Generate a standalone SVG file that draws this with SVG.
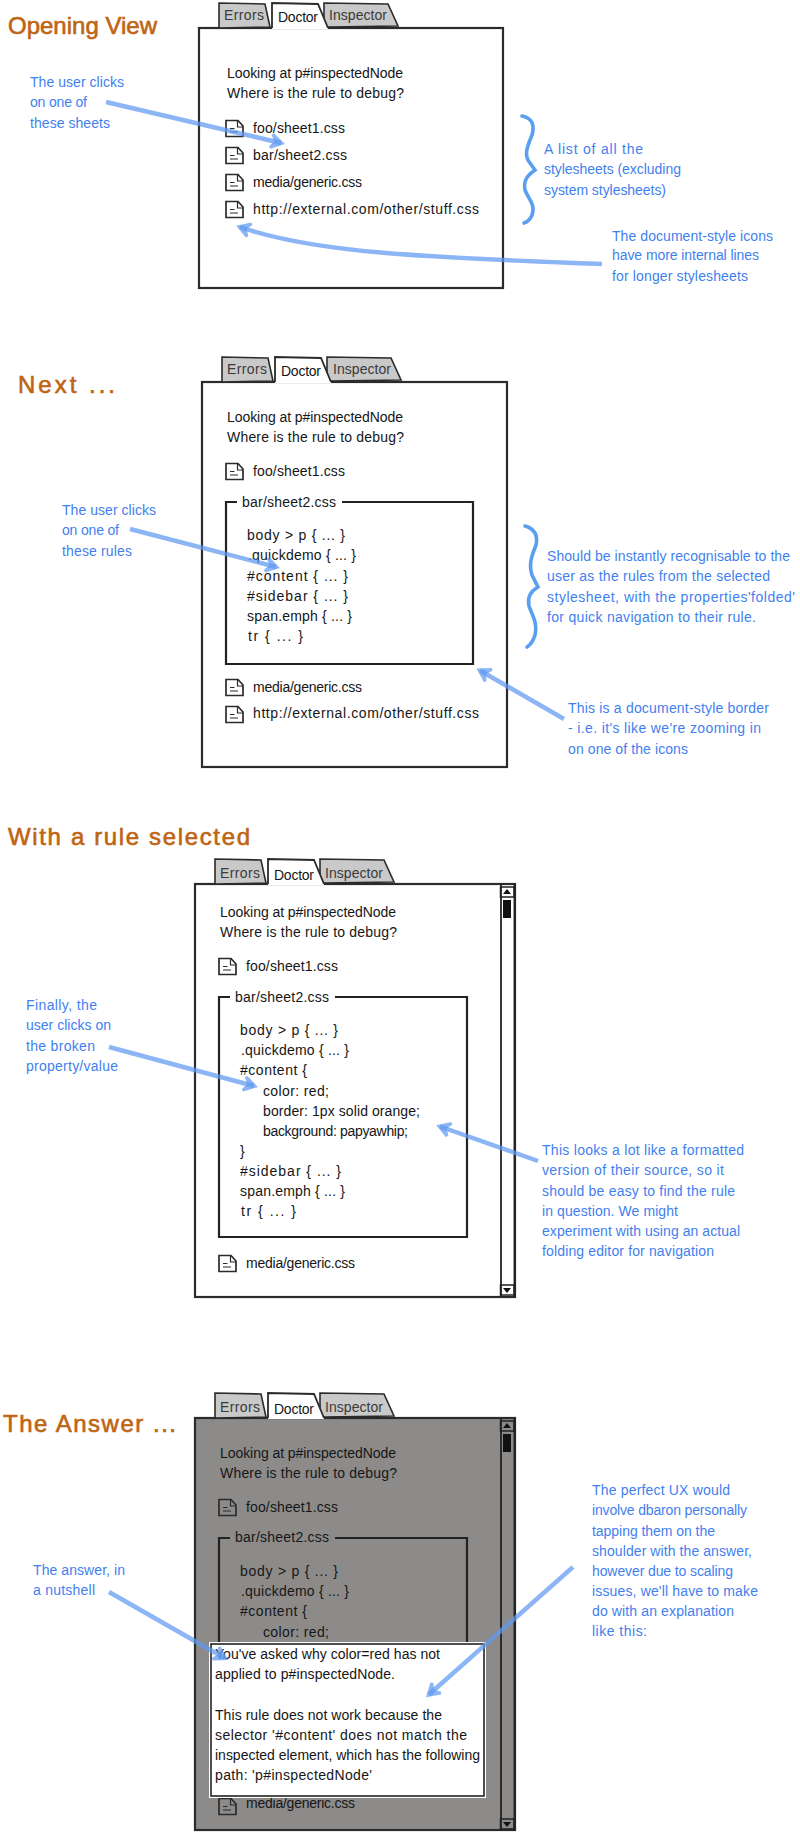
<svg xmlns="http://www.w3.org/2000/svg" xmlns:xlink="http://www.w3.org/1999/xlink" width="800" height="1833" viewBox="0 0 800 1833">
<style>
text{font-family:"Liberation Sans",Arial,sans-serif}
.k{font-size:14px;fill:#161616}
.g{font-size:14px;fill:#3a3a3a}
.l{font-size:14px;fill:#3f7ff0}
.t{font-size:24px;fill:#bf6412;stroke:#bf6412;stroke-width:.6}
.box{fill:#fff;stroke:#2b2b2b;stroke-width:2.2}
.dim{fill:#8c8b8a;stroke:#2b2b2b;stroke-width:2.2}
.fr{fill:none;stroke:#222;stroke-width:2.2}
.c{fill:none;stroke:#5f99f1;stroke-opacity:.72;stroke-width:4.5;marker-end:url(#ah)}
.br{fill:none;stroke:#5a9ff0;stroke-width:3.6;stroke-linecap:round}
</style>
<defs>
<marker id="ah" markerUnits="userSpaceOnUse" markerWidth="20" markerHeight="20" viewBox="0 0 20 20" refX="13" refY="10" orient="auto">
<path d="M17 10L4 2L2 4L6 10L2 16L4 18Z" fill="#5f99f1" fill-opacity=".72"/>
</marker>
<g id="tabs">
<path d="M219 28V3L265 4L270 27Z" fill="#c9c9c9" stroke="#2b2b2b" stroke-width="1.6"/>
<path d="M324 28V3L388 4L398 26L328 27Z" fill="#c9c9c9" stroke="#2b2b2b" stroke-width="1.6"/>
<path d="M272 29V3L318 4L328 28V29Z" fill="#fff"/>
<path d="M272 28V3L318 4L328 28" fill="none" stroke="#2b2b2b" stroke-width="1.8"/>
</g>
<g id="ic" fill="none" stroke="#2b2b2b">
<path d="M1 1.500H13L18 7V17.500H1Z" stroke-width="1.700"/>
<path d="M12.500 2V8H18" stroke-width="1.200"/>
<path d="M5 9.500H9.500M5 13H13" stroke-width="1.200"/>
</g>
<g id="sb" fill="none" stroke="#222">
<path d="M501 884V1297M514.500 884V1297" stroke-width="1.800"/>
<rect x="500.500" y="887" width="13.500" height="10" stroke-width="1.500"/>
<rect x="500.500" y="1285" width="13.500" height="10" stroke-width="1.500"/>
<path d="M507 889L511 894H503Z" fill="#111" stroke="none"/>
<path d="M507 1293L511 1288H503Z" fill="#111" stroke="none"/>
<rect x="503" y="900" width="8" height="18" fill="#111" stroke="none"/>
</g>
</defs>
<rect width="800" height="1833" fill="#fff"/>

<g id="panel-opening">
<text class="t" x="8" y="34" textLength="149">Opening View</text>
<rect class="box" x="199" y="28" width="304" height="260"/>
<use xlink:href="#tabs" href="#tabs"/>
<text class="g" x="224" y="20" textLength="40">Errors</text>
<text class="k" x="278" y="22" textLength="40">Doctor</text>
<text class="g" x="329" y="20" textLength="58">Inspector</text>
<text class="k" x="227" y="78" textLength="176">Looking at p#inspectedNode</text>
<text class="k" x="227" y="98" textLength="177">Where is the rule to debug?</text>
<use href="#ic" x="225" y="119"/><text class="k" x="253" y="133" textLength="92">foo/sheet1.css</text>
<use href="#ic" x="225" y="146"/><text class="k" x="253" y="160" textLength="94">bar/sheet2.css</text>
<use href="#ic" x="225" y="173"/><text class="k" x="253" y="187" textLength="109">media/generic.css</text>
<use href="#ic" x="225" y="200"/><text class="k" x="253" y="214" textLength="226">http://external.com/other/stuff.css</text>
</g>

<g id="panel-next">
<text class="t" x="18" y="393" textLength="97">Next ...</text>
<rect class="box" x="202" y="382" width="305" height="385"/>
<use href="#tabs" x="3" y="354"/>
<text class="g" x="227" y="374" textLength="40">Errors</text>
<text class="k" x="281" y="376" textLength="40">Doctor</text>
<text class="g" x="333" y="374" textLength="58">Inspector</text>
<text class="k" x="227" y="422" textLength="176">Looking at p#inspectedNode</text>
<text class="k" x="227" y="442" textLength="177">Where is the rule to debug?</text>
<use href="#ic" x="225" y="462"/><text class="k" x="253" y="476" textLength="92">foo/sheet1.css</text>
<path class="fr" d="M237 502H226V664H473V502H342"/>
<text class="k" x="242" y="507" textLength="94">bar/sheet2.css</text>
<text class="k" x="247" y="540" textLength="98">body &gt; p { ... }</text>
<text class="k" x="248" y="560" textLength="108">.quickdemo { ... }</text>
<text class="k" x="247" y="581" textLength="101">#content { ... }</text>
<text class="k" x="247" y="601" textLength="101">#sidebar { ... }</text>
<text class="k" x="247" y="621" textLength="105">span.emph { ... }</text>
<text class="k" x="248" y="641" textLength="55">tr { ... }</text>
<use href="#ic" x="225" y="678"/><text class="k" x="253" y="692" textLength="109">media/generic.css</text>
<use href="#ic" x="225" y="705"/><text class="k" x="253" y="718" textLength="226">http://external.com/other/stuff.css</text>
</g>

<g id="panel-rule">
<text class="t" x="8" y="845" textLength="242">With a rule selected</text>
<rect class="box" x="195" y="884" width="320" height="413"/>
<use href="#sb"/>
<use href="#tabs" x="-4" y="856"/>
<text class="g" x="220" y="878" textLength="40">Errors</text>
<text class="k" x="274" y="880" textLength="40">Doctor</text>
<text class="g" x="325" y="878" textLength="58">Inspector</text>
<text class="k" x="220" y="917" textLength="176">Looking at p#inspectedNode</text>
<text class="k" x="220" y="937" textLength="177">Where is the rule to debug?</text>
<use href="#ic" x="218" y="957"/><text class="k" x="246" y="971" textLength="92">foo/sheet1.css</text>
<path class="fr" d="M230 997H219V1237H467V997H335"/>
<text class="k" x="235" y="1002" textLength="94">bar/sheet2.css</text>
<text class="k" x="240" y="1035" textLength="98">body &gt; p { ... }</text>
<text class="k" x="241" y="1055" textLength="108">.quickdemo { ... }</text>
<text class="k" x="240" y="1075" textLength="67">#content {</text>
<text class="k" x="263" y="1096" textLength="66">color: red;</text>
<text class="k" x="263" y="1116" textLength="157">border: 1px solid orange;</text>
<text class="k" x="263" y="1136" textLength="145">background: papyawhip;</text>
<text class="k" x="240" y="1156">}</text>
<text class="k" x="240" y="1176" textLength="101">#sidebar { ... }</text>
<text class="k" x="240" y="1196" textLength="105">span.emph { ... }</text>
<text class="k" x="241" y="1216" textLength="55">tr { ... }</text>
<use href="#ic" x="218" y="1254"/><text class="k" x="246" y="1268" textLength="109">media/generic.css</text>
</g>

<g id="panel-answer">
<text class="t" x="3" y="1432" textLength="173">The Answer ...</text>
<rect class="dim" x="195" y="1418" width="320" height="412"/>
<use href="#sb" y="534"/>
<use href="#tabs" x="-4" y="1390"/>
<text class="g" x="220" y="1412" textLength="40">Errors</text>
<text class="k" x="274" y="1414" textLength="40">Doctor</text>
<text class="g" x="325" y="1412" textLength="58">Inspector</text>
<text class="k" x="220" y="1458" textLength="176">Looking at p#inspectedNode</text>
<text class="k" x="220" y="1478" textLength="177">Where is the rule to debug?</text>
<use href="#ic" x="218" y="1498"/><text class="k" x="246" y="1512" textLength="92">foo/sheet1.css</text>
<path class="fr" d="M230 1538H219V1700H467V1538H335"/>
<text class="k" x="235" y="1542" textLength="94">bar/sheet2.css</text>
<text class="k" x="240" y="1576" textLength="98">body &gt; p { ... }</text>
<text class="k" x="241" y="1596" textLength="108">.quickdemo { ... }</text>
<text class="k" x="240" y="1616" textLength="67">#content {</text>
<text class="k" x="263" y="1637" textLength="66">color: red;</text>
<use href="#ic" x="218" y="1797"/><text class="k" x="246" y="1808" textLength="109">media/generic.css</text>
</g>

<g id="answer-note">
<rect x="209" y="1642" width="277" height="156" fill="#fff"/>
<rect x="211" y="1644" width="273" height="152" fill="none" stroke="#222" stroke-width="1.600"/>
<text class="k" x="215" y="1659" textLength="225">You've asked why color=red has not</text>
<text class="k" x="215" y="1679" textLength="180">applied to p#inspectedNode.</text>
<text class="k" x="215" y="1720" textLength="227">This rule does not work because the</text>
<text class="k" x="215" y="1740" textLength="252">selector '#content' does not match the</text>
<text class="k" x="215" y="1760" textLength="265">inspected element, which has the following</text>
<text class="k" x="215" y="1780" textLength="157">path: 'p#inspectedNode'</text>
</g>

<g id="labels">
<text class="l" x="30" y="87" textLength="94">The user clicks</text>
<text class="l" x="30" y="107" textLength="57">on one of</text>
<text class="l" x="30" y="128" textLength="80">these sheets</text>
<text class="l" x="544" y="154" textLength="99">A list of all the</text>
<text class="l" x="544" y="174" textLength="137">stylesheets (excluding</text>
<text class="l" x="544" y="195" textLength="122">system stylesheets)</text>
<text class="l" x="612" y="241" textLength="161">The document-style icons</text>
<text class="l" x="612" y="260" textLength="147">have more internal lines</text>
<text class="l" x="612" y="281" textLength="136">for longer stylesheets</text>
<text class="l" x="62" y="515" textLength="94">The user clicks</text>
<text class="l" x="62" y="535" textLength="57">on one of</text>
<text class="l" x="62" y="556" textLength="70">these rules</text>
<text class="l" x="547" y="561" textLength="243">Should be instantly recognisable to the</text>
<text class="l" x="547" y="581" textLength="223">user as the rules from the selected</text>
<text class="l" x="547" y="602" textLength="248">stylesheet, with the properties'folded'</text>
<text class="l" x="547" y="622" textLength="209">for quick navigation to their rule.</text>
<text class="l" x="568" y="713" textLength="201">This is a document-style border</text>
<text class="l" x="568" y="733" textLength="193">- i.e. it's like we're zooming in</text>
<text class="l" x="568" y="754" textLength="120">on one of the icons</text>
<text class="l" x="26" y="1010" textLength="71">Finally, the</text>
<text class="l" x="26" y="1030" textLength="85">user clicks on</text>
<text class="l" x="26" y="1051" textLength="69">the broken</text>
<text class="l" x="26" y="1071" textLength="92">property/value</text>
<text class="l" x="542" y="1155" textLength="202">This looks a lot like a formatted</text>
<text class="l" x="542" y="1175" textLength="182">version of their source, so it</text>
<text class="l" x="542" y="1196" textLength="193">should be easy to find the rule</text>
<text class="l" x="542" y="1216" textLength="136">in question. We might</text>
<text class="l" x="542" y="1236" textLength="198">experiment with using an actual</text>
<text class="l" x="542" y="1256" textLength="172">folding editor for navigation</text>
<text class="l" x="33" y="1575" textLength="92">The answer, in</text>
<text class="l" x="33" y="1595" textLength="62">a nutshell</text>
<text class="l" x="592" y="1495" textLength="138">The perfect UX would</text>
<text class="l" x="592" y="1515" textLength="155">involve dbaron personally</text>
<text class="l" x="592" y="1536" textLength="123">tapping them on the</text>
<text class="l" x="592" y="1556" textLength="160">shoulder with the answer,</text>
<text class="l" x="592" y="1576" textLength="141">however due to scaling</text>
<text class="l" x="592" y="1596" textLength="166">issues, we'll have to make</text>
<text class="l" x="592" y="1616" textLength="142">do with an explanation</text>
<text class="l" x="592" y="1636" textLength="55">like this:</text>
</g>

<g id="connectors">
<path class="br" d="M522 116C532 118 535 125 532 135C528 145 523 155 530 163L535 170C528 175 523 180 525 190C528 198 536 205 532 215C530 220 527 222 524 223"/>
<path class="br" d="M525 526C535 529 538 536 536 545C533 553 528 563 532 575L538 587C531 591 527 597 529 606C532 615 538 623 535 635C533 642 530 645 527 647"/>
<path class="c" d="M106 102L281 143"/>
<path class="c" d="M602 264C450 258 320 255 240 227"/>
<path class="c" d="M130 529L276 567"/>
<path class="c" d="M564 719L480 670.500"/>
<path class="c" d="M109 1047L254 1086"/>
<path class="c" d="M538 1161L440 1126.500"/>
<path class="c" d="M109 1592L224.500 1658"/>
<path class="c" d="M573 1567L429 1694.500"/>
</g>
</svg>
